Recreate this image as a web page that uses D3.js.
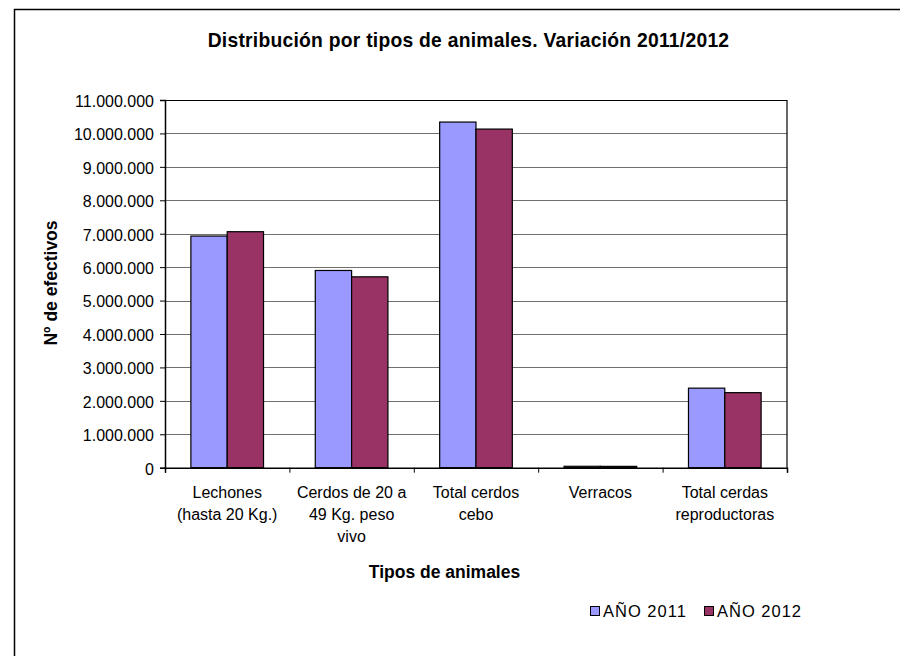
<!DOCTYPE html>
<html>
<head>
<meta charset="utf-8">
<script src="https://cdn.jsdelivr.net/npm/d3@7"></script>
<style>
  html, body { margin: 0; padding: 0; background: #fff; }
  svg { display: block; font-family: "Liberation Sans", Arial, sans-serif; }
</style>
</head>
<body>
<svg id="chart" width="900" height="656"></svg>
<script>
// ---- Data ----
const categories = [
  ["Lechones", "(hasta 20 Kg.)"],
  ["Cerdos de 20 a", "49 Kg. peso", "vivo"],
  ["Total cerdos", "cebo"],
  ["Verracos"],
  ["Total cerdas", "reproductoras"]
];
const seriesNames = ["AÑO 2011", "AÑO 2012"];
const values2011 = [6930000, 5900000, 10340000, 42000, 2380000];
const values2012 = [7060000, 5710000, 10130000, 40000, 2245000];
const yTicks = [0, 1000000, 2000000, 3000000, 4000000, 5000000, 6000000, 7000000, 8000000, 9000000, 10000000, 11000000];
const titleText = "Distribución por tipos de animales. Variación 2011/2012";
const yTitle = "Nº de efectivos";
const xTitle = "Tipos de animales";
const colors = ["#9999FF", "#993366"];

// ---- Layout ----
const svg = d3.select("#chart");
const plot = { left: 165, right: 787, top: 100, bottom: 467.7 };

const locale = d3.formatLocale({ decimal: ",", thousands: ".", grouping: [3], currency: ["", "€"] });
const fmt = locale.format(",d");

const x0 = d3.scaleBand()
  .domain(d3.range(categories.length))
  .range([plot.left, plot.right])
  .paddingInner(0.416)
  .paddingOuter(0.208);
const x1 = d3.scaleBand().domain(d3.range(seriesNames.length)).range([0, x0.bandwidth()]);
const y = d3.scaleLinear().domain([0, 11000000]).range([plot.bottom, plot.top]);

// outer frame
svg.append("rect")
  .attr("x", 14.5).attr("y", 9.5).attr("width", 1000).attr("height", 1000)
  .attr("fill", "#fff").attr("stroke", "#000").attr("stroke-width", 1.5);

// title
svg.append("text")
  .attr("x", 468.5).attr("y", 47)
  .attr("text-anchor", "middle")
  .attr("font-weight", "bold").attr("font-size", 19.3)
  .attr("letter-spacing", 0.25)
  .text(titleText);

// gridlines
svg.append("g")
  .selectAll("line")
  .data(yTicks)
  .join("line")
  .attr("x1", plot.left).attr("x2", plot.right)
  .attr("y1", d => Math.round(y(d)) + 0.5).attr("y2", d => Math.round(y(d)) + 0.5)
  .attr("stroke", d => (d === 11000000 ? "#000" : "#707070"))
  .attr("stroke-width", 1.1);

// bars
const groups = svg.append("g")
  .selectAll("g")
  .data(categories.map((c, i) => i))
  .join("g")
  .attr("transform", i => `translate(${x0(i)},0)`);

groups.selectAll("rect")
  .data(i => [values2011[i], values2012[i]].map((v, s) => ({ v, s })))
  .join("rect")
  .attr("x", d => x1(d.s))
  .attr("width", x1.bandwidth())
  .attr("y", d => y(d.v))
  .attr("height", d => y(0) - y(d.v))
  .attr("fill", d => colors[d.s])
  .attr("stroke", "#000")
  .attr("stroke-width", 1.2);

// plot right border
svg.append("line")
  .attr("x1", plot.right).attr("x2", plot.right)
  .attr("y1", plot.top).attr("y2", plot.bottom)
  .attr("stroke", "#000").attr("stroke-width", 1.2);

// y axis
const yAxis = d3.axisLeft(y).tickValues(yTicks).tickFormat(fmt).tickSize(5).tickPadding(6);
const gy = svg.append("g").attr("transform", `translate(${plot.left},0)`).call(yAxis);
gy.select(".domain").attr("stroke", "#000").attr("stroke-width", 1.5);
gy.selectAll(".tick line").attr("stroke", "#000");
gy.selectAll(".tick text")
  .attr("font-size", 16).attr("fill", "#000")
  .attr("font-family", "Liberation Sans, Arial, sans-serif")
  .attr("dy", "0.4em");

// x axis (ticks at category boundaries)
const xb = d3.scaleLinear().domain([0, categories.length]).range([plot.left, plot.right]);
const xAxis = d3.axisBottom(xb).tickValues(d3.range(categories.length + 1)).tickFormat("").tickSize(5).tickSizeOuter(5);
const gx = svg.append("g").attr("transform", `translate(0,${plot.bottom})`).call(xAxis);
gx.select(".domain").attr("stroke", "#000").attr("stroke-width", 1.5);
gx.selectAll(".tick line").attr("stroke", "#000");

// category labels
const labels = svg.append("g");
categories.forEach((lines, i) => {
  const cx = x0(i) + x0.bandwidth() / 2;
  const t = labels.append("text")
    .attr("text-anchor", "middle")
    .attr("font-size", 16);
  lines.forEach((ln, j) => {
    t.append("tspan").attr("x", cx).attr("y", 497.5 + j * 22).text(ln);
  });
});

// axis titles
svg.append("text")
  .attr("x", 444.5).attr("y", 577.5)
  .attr("text-anchor", "middle")
  .attr("font-weight", "bold").attr("font-size", 17.5)
  .text(xTitle);

svg.append("text")
  .attr("transform", "translate(57,283) rotate(-90)")
  .attr("text-anchor", "middle")
  .attr("font-weight", "bold").attr("font-size", 17.5)
  .text(yTitle);

// legend
const legendX = [590, 704];
const legend = svg.append("g");
seriesNames.forEach((name, i) => {
  legend.append("rect")
    .attr("x", legendX[i] + 0.5).attr("y", 606.5)
    .attr("width", 9).attr("height", 9)
    .attr("fill", colors[i]).attr("stroke", "#000").attr("stroke-width", 1);
  legend.append("text")
    .attr("x", legendX[i] + 13).attr("y", 616.5)
    .attr("font-size", 16.5)
    .attr("letter-spacing", 1)
    .text(name);
});
</script>
</body>
</html>
